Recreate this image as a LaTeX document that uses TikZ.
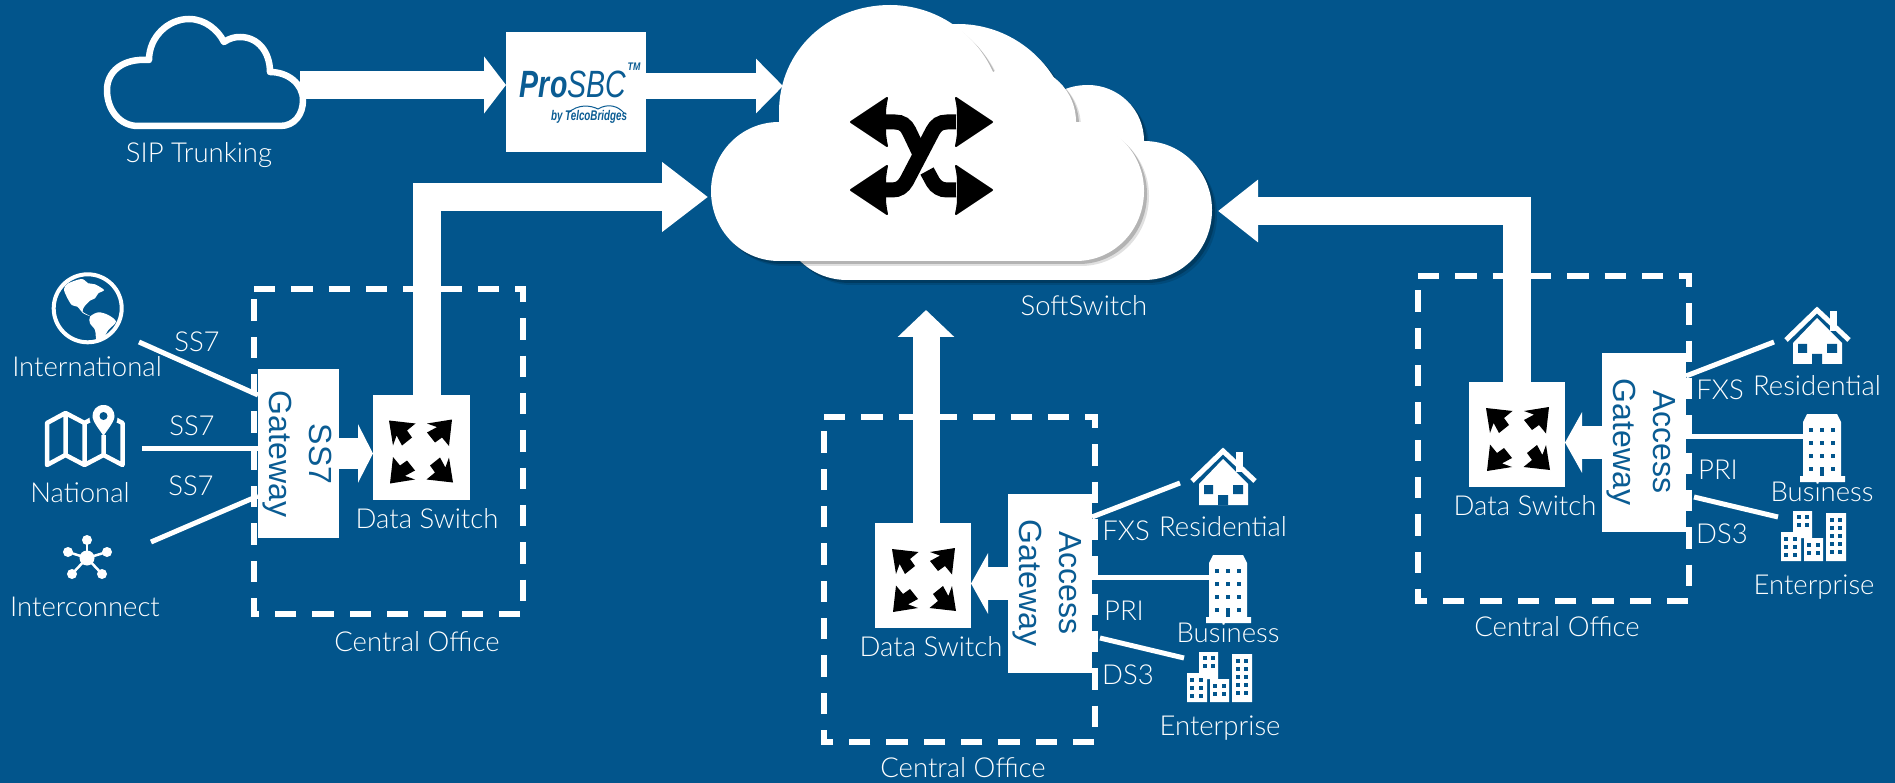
\documentclass[tikz,border=0pt]{standalone}
\usepackage{fontspec}
\setmainfont{Lato Light}
\newfontfamily\logofont{Liberation Sans}
\usetikzlibrary{arrows.meta,shadows}
\definecolor{bluebg}{HTML}{02558C}
\definecolor{bluetxt}{HTML}{0A5C93}
\tikzset{
  lbl/.style={text=white,inner sep=0pt,font=\fontsize{27.5}{32}\selectfont},
  boxlbl/.style={text=bluetxt,inner sep=0pt,rotate=-90,align=center,font=\logofont\fontsize{32}{40}\selectfont},
  logotxt/.style={text=bluetxt,inner sep=0pt,font=\logofont\itshape},
  whitebox/.style={fill=white,inner sep=0pt,outer sep=0pt},
  officespan/.style={inner sep=0pt,outer sep=0pt},
  officeline/.style={draw=white,line width=5.5pt,dash pattern=on 21.3pt off 16pt},
  thinlink/.style={draw=white,line width=5pt},
  fatlink/.style n args={3}{draw=white,line width=#1pt,-{Triangle[length=#2pt,width=#3pt]}},
  softcloudshape/.style={fill=white,drop shadow={shadow xshift=5pt,shadow yshift=-5pt,opacity=.12,fill=black},drop shadow={shadow xshift=3pt,shadow yshift=-3pt,opacity=.2,fill=black}},
  pics/softcloud/.style={code={
    \fill[softcloudshape] (779,261) .. controls (741,261) and (711,230) .. (711,191)
      .. controls (711,153) and (741,122) .. (779,122) -- (779,112)
      .. controls (779,50) and (829,5) .. (890,5) .. controls (935,5) and (975,32) .. (993,72)
      .. controls (1001,68) and (1010,66) .. (1020,66) .. controls (1050,66) and (1076,90) .. (1076,122)
      .. controls (1114,122) and (1144,153) .. (1144,191) .. controls (1144,230) and (1114,261) .. (1076,261) -- cycle;
  }},
  pics/spreadmark/.style={code={
    \foreach \r in {0,90,180,270}{
      \fill[black,rotate=\r] (-32,-31) -- (-5.5,-28) -- (-14,-21) -- (-9,-14) -- (-19,-6) -- (-24.4,-16) -- (-28,-6) -- cycle;
    }
  }}
}
\begin{document}
\begin{tikzpicture}[x=1pt,y=-1pt]
    \useasboundingbox[fill=bluebg] (0,0) rectangle (1895,783);

    \pic at (68,19) {softcloud};
    \pic at (0,0) {softcloud};
    \foreach \sx/\sy in {851/122,851/190}{
      \fill[black,line join=round,draw=black,line width=2pt] (\sx,\sy) -- (\sx+36,\sy-24) .. controls (\sx+34,\sy-14) .. (\sx+34,\sy) .. controls (\sx+34,\sy+14) .. (\sx+36,\sy+24) -- cycle;
    }
    \foreach \sx/\sy in {992/122,992/190}{
      \fill[black,line join=round,draw=black,line width=2pt] (\sx,\sy) -- (\sx-36,\sy-24) .. controls (\sx-34,\sy-14) .. (\sx-34,\sy) .. controls (\sx-34,\sy+14) .. (\sx-36,\sy+24) -- cycle;
    }
    \draw[line width=15pt] (886,122) -- (895,122) .. controls (902,122) and (906,125) .. (909,131) -- (919,152);
    \draw[line width=15pt] (927,171) -- (933,182) .. controls (936,187) and (941,190) .. (947,190) -- (956,190);
    \draw[line width=15pt] (956,122) -- (947,122) .. controls (940,122) and (936,125) .. (932.7,131) -- (906.6,181) .. controls (903,187) and (899,190) .. (892,190) -- (886,190);
    \node[lbl] (softswitch) at (1084,306) {SoftSwitch};
    \coordinate (cloud-sbc) at (783,86);
    \coordinate (cloud-west) at (708,197);
    \coordinate (cloud-east) at (1218,211);
    \coordinate (cloud-south) at (926,310);

    \draw[white,line width=6.5pt,line join=round] (138,126) .. controls (120,126) and (107,110) .. (107,90)
      .. controls (107,72) and (122,58) .. (149,60) .. controls (149,37) and (168,19) .. (189,19)
      .. controls (205,19) and (218,30) .. (224,42) .. controls (230,38) and (235,37) .. (240,37)
      .. controls (258,37) and (270,52) .. (270,72) .. controls (288,72) and (303,84) .. (303,100)
      .. controls (303,114) and (295,126) .. (280,126) -- cycle;
    \coordinate (sip) at (300,85);
    \node[lbl] (sip-label) at (199,155) {SIP Trunking};

    \node[whitebox,minimum width=140pt,minimum height=120pt] (prosbc) at (576,92) {};
    \node[logotxt,xscale=.75,font=\logofont\itshape\fontsize{38}{40}\selectfont] (prosbc-logo) at (573,84) {{\bfseries Pro}SBC};
    \node[logotxt,xscale=.8,font=\logofont\itshape\bfseries\fontsize{11}{12}\selectfont] (prosbc-tm) at (634,67) {TM};
    \node[logotxt,xscale=.7,font=\logofont\itshape\bfseries\fontsize{14}{16}\selectfont] (prosbc-by) at (589,117) {by TelcoBridges};
    \draw[bluetxt,line width=1pt] (568,113) .. controls (578,104) and (590,105) .. (598,109) .. controls (608,103) and (618,106) .. (624,113);
    \draw[fatlink={28}{22}{56}] (sip) -- (prosbc.west |- sip);
    \draw[fatlink={26}{27}{53}] (prosbc.east |- cloud-sbc) -- (cloud-sbc);

    \node[officespan,minimum width=269pt,minimum height=325pt] (ss7-office) at (388.5,451.5) {};
    \draw[officeline] (ss7-office.north west) -- (ss7-office.north east) -- (ss7-office.south east) -- (ss7-office.south west) -- cycle;
    \node[lbl] (ss7-office-label) at (417,642) {Central Office};
    \node[whitebox,minimum width=81pt,minimum height=169pt] (ss7-gateway) at (298.5,453.5) {};
    \node[boxlbl] (ss7-gateway-label) at (297,454) {SS7\\Gateway};
    \node[whitebox,minimum width=97pt,minimum height=105pt] (ss7-dswitch) at (421.5,447.5) {};
    \pic at (421,451.5) {spreadmark};
    \node[lbl] (ss7-dswitch-label) at (427,519) {Data Switch};
    \draw[fatlink={31}{15}{58}] (ss7-gateway.east) -- (ss7-dswitch.west |- ss7-gateway.east);
    \draw[fatlink={28}{46}{67}] (ss7-dswitch.north -| 427,0) |- (cloud-west);

    \fill[white,even odd rule] (87.7,308.3) circle (36) (87.7,308.3) circle (32);
    \fill[white] plot[smooth cycle,tension=.5] coordinates {(64,289) (68.3,283.3) (81.7,279) (88.3,283.3) (95,284.3) (104,290) (98.3,293.3) (95,298.3) (90,300.7) (84.3,306.7) (82.7,311.7) (90,316) (83.3,313.3) (77.3,306.7) (71.7,305) (66.7,296.7)};
    \fill[white] plot[smooth cycle,tension=.5] coordinates {(90,316.7) (98.3,312.3) (108.3,315) (116,321.7) (108.3,330) (103.3,338.3) (96.7,341) (95,330) (90,323.3)};
    \node[lbl] (international) at (87,367) {International};

    \draw[white,line width=4.5pt,line join=round] (47,423) -- (65.5,413) -- (84.5,423) -- (103.5,413) -- (122.5,423) -- (122.5,465) -- (103.5,455) -- (84.5,465) -- (65.5,455) -- (47,465) -- cycle
      (65.5,413) -- (65.5,455) (84.5,423) -- (84.5,465) (103.5,435) -- (103.5,455);
    \fill[bluebg] (103.5,417) circle (14);
    \fill[white] (103.5,405) .. controls (96,405) and (92.5,411) .. (92.5,416) .. controls (92.5,422) and (100,430) .. (103.5,436) .. controls (107,430) and (114.5,422) .. (114.5,416) .. controls (114.5,411) and (111,405) .. (103.5,405) -- cycle;
    \fill[bluebg] (103.5,416) circle (4);
    \node[lbl] (national) at (80,493) {National};

    \foreach \hx/\hy in {87/540,68/552,107/552,72/574,102/574}{
      \draw[white,line width=2.5pt] (87,558) -- (\hx,\hy);
      \fill[white] (\hx,\hy) circle (5);
    }
    \fill[white] (87,558) circle (7.5);
    \node[lbl] (interconnect) at (85,607) {Interconnect};

    \coordinate (international-wire) at (139,342);
    \coordinate (national-wire) at (142,448);
    \coordinate (interconnect-wire) at (151,542);
    \draw[thinlink] (international-wire) -- (ss7-gateway.west |- 0,395);
    \draw[thinlink] (national-wire) -- (ss7-gateway.west |- national-wire);
    \draw[thinlink] (interconnect-wire) -- (ss7-gateway.west |- 0,496);
    \node[lbl] (ss7-a) at (197,342) {SS7};
    \node[lbl] (ss7-b) at (192,426) {SS7};
    \node[lbl] (ss7-c) at (191,486) {SS7};

    \foreach \grp/\dx/\dy in {mid/0/0,east/594/141}{
      \begin{scope}[xshift=\dx pt,yshift=\dy pt,name prefix=\grp-]
        \node[officespan,minimum width=271pt,minimum height=325pt] (office) at (959.5,579.5) {};
        \draw[officeline] (office.north west) -- (office.north east) -- (office.south east) -- (office.south west) -- cycle;
        \node[lbl] (office-label) at (963,768) {Central Office};
        \node[whitebox,minimum width=84pt,minimum height=179pt] (gateway) at (1050,583.5) {};
        \node[boxlbl] (gateway-label) at (1047.5,583) {Access\\Gateway};
        \node[whitebox,minimum width=96pt,minimum height=105pt] (dswitch) at (923,575.5) {};
        \pic at (924,580) {spreadmark};
        \node[lbl] (dswitch-label) at (931,647) {Data Switch};
        \draw[fatlink={33}{17}{60}] (gateway.west) -- (dswitch.east |- gateway.west);

        \coordinate (fxs-wire) at (1180,483);
        \coordinate (pri-wire) at (1209,577);
        \coordinate (ds3-wire) at (1184,658);
        \draw[thinlink] (gateway.east |- 0,517) -- (fxs-wire);
        \draw[thinlink] (gateway.east |- pri-wire) -- (pri-wire);
        \draw[thinlink] (1100,638) -- (ds3-wire);
        \node[lbl] (fxs) at (1126,531) {FXS};
        \node[lbl] (pri) at (1124,611) {PRI};
        \node[lbl] (ds3) at (1128,675) {DS3};

        \draw[white,line width=5pt] (1192,481) -- (1223,451) -- (1255,481);
        \fill[white] (1236,452) rectangle (1243,472);
        \fill[white] (1223,459) -- (1248,484) -- (1248,505) -- (1199,505) -- (1199,484) -- cycle;
        \fill[bluebg] (1204,485) rectangle (1213,494) (1233,485) rectangle (1243,494) (1218,495) rectangle (1228,505);
        \node[lbl] (residential) at (1223,527) {Residential};

        \fill[white] (1213,555) -- (1243,555) -- (1247,563) -- (1247,617) -- (1251,617) -- (1251,623) -- (1206,623) -- (1206,617) -- (1209,617) -- (1209,563) -- cycle;
        \foreach \wx in {1217,1228,1239}{
          \foreach \wy in {571,584,597,610}{
            \fill[bluebg] (\wx-2.3,\wy-2.3) rectangle (\wx+2.3,\wy+2.3);
          }
        }
        \fill[bluebg] (1225.7,608) rectangle (1230.3,617);
        \node[lbl] (business) at (1228,633) {Business};

        \fill[white] (1187,673) rectangle (1207,702) (1199,652) rectangle (1218,675) (1207,670) rectangle (1218,679) (1210,679) rectangle (1229,702) (1232,654) rectangle (1252,702);
        \foreach \wx in {1192,1201}{
          \foreach \wy in {680,688,696}{
            \fill[bluebg] (\wx-1.6,\wy-1.6) rectangle (\wx+1.6,\wy+1.6);
          }
        }
        \foreach \wx in {1205,1213}{
          \foreach \wy in {658,666}{
            \fill[bluebg] (\wx-1.6,\wy-1.6) rectangle (\wx+1.6,\wy+1.6);
          }
        }
        \foreach \wx in {1215,1224}{
          \foreach \wy in {686,694}{
            \fill[bluebg] (\wx-1.6,\wy-1.6) rectangle (\wx+1.6,\wy+1.6);
          }
        }
        \foreach \wx in {1238,1246}{
          \foreach \wy in {661,669,677,685,693}{
            \fill[bluebg] (\wx-1.6,\wy-1.6) rectangle (\wx+1.6,\wy+1.6);
          }
        }
        \node[lbl] (enterprise) at (1220,728) {Enterprise};
      \end{scope}
    }
    \draw[fatlink={27}{27}{55}] (mid-dswitch.north -| 926,0) -- (cloud-south);
    \draw[fatlink={28}{40}{60}] (east-dswitch.north -| 1517,0) |- (cloud-east);
\end{tikzpicture}
\end{document}
